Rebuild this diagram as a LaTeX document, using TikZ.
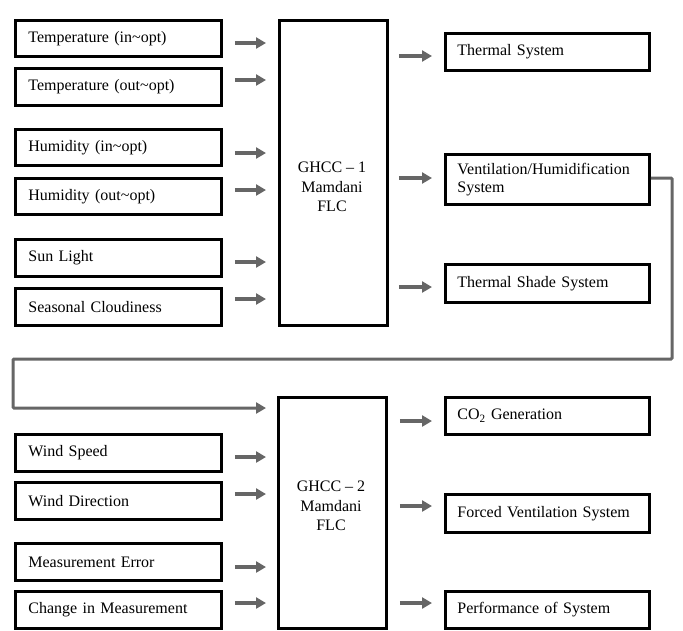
\documentclass[tikz,border=0pt]{standalone}
\usepackage{fontspec}
\setmainfont{Liberation Serif}
\usetikzlibrary{arrows.meta}
\definecolor{flowgray}{HTML}{666666}
\begin{document}
\begin{tikzpicture}[x=1pt,y=-1pt,
  font=\fontsize{16}{18.5}\selectfont,
  inbox/.style={draw=black, line width=2.8pt, anchor=north west,
    text width=180pt, inner xsep=13pt, inner ysep=0pt, align=left},
  outbox/.style={draw=black, line width=2.8pt, anchor=north west,
    text width=180pt, inner xsep=12pt, inner ysep=0pt, align=left},
  flc/.style={draw=black, line width=2.8pt, anchor=north west,
    minimum width=108pt, inner sep=0pt},
  flctext/.style={align=center, inner sep=0pt, font=\fontsize{16}{19.5}\selectfont},
  garrow/.style={draw=flowgray, line width=3.6pt,
    -{Triangle[length=10pt,width=11pt]}},
  fbline/.style={draw=flowgray, line width=3pt, rounded corners=1pt,
    -{Triangle[length=10pt,width=11pt]}}]
\useasboundingbox (0,0) rectangle (683,630);

% controller blocks
\node[flc, minimum height=305pt] (g1) at (278,19) {};
\node[flctext] (g1t) at (332,187) {GHCC -- 1\\Mamdani\\FLC};
\node[flc, minimum height=231pt] (g2) at (277,396) {};
\node[flctext] (g2t) at (331,506) {GHCC -- 2\\Mamdani\\FLC};

% inputs of the first controller
\node[inbox, minimum height=36pt] (ti) at (14,19)  {Temperature (in\textasciitilde opt)};
\node[inbox, minimum height=37pt] (to) at (14,67)  {Temperature (out\textasciitilde opt)};
\node[inbox, minimum height=36pt] (hi) at (14,128) {Humidity (in\textasciitilde opt)};
\node[inbox, minimum height=36pt] (ho) at (14,177) {Humidity (out\textasciitilde opt)};
\node[inbox, minimum height=37pt] (sl) at (14,238) {Sun Light};
\node[inbox, minimum height=37pt] (sc) at (14,287) {Seasonal Cloudiness};

% inputs of the second controller
\node[inbox, minimum height=37pt] (ws) at (14,433) {Wind Speed};
\node[inbox, minimum height=37pt] (wd) at (14,481) {Wind Direction};
\node[inbox, minimum height=37pt] (me) at (14,542) {Measurement Error};
\node[inbox, minimum height=37pt] (cm) at (14,590) {Change in Measurement};

% outputs
\node[outbox, minimum height=37pt] (ts)  at (444,32)  {Thermal System};
\node[outbox, minimum height=50pt] (vh)  at (444,153) {Ventilation/Humidification\\System};
\node[outbox, minimum height=38pt] (tss) at (444,263) {Thermal Shade System};
\node[outbox, minimum height=37pt] (co)  at (444,396) {CO\textsubscript{2} Generation};
\node[outbox, minimum height=38pt] (fv)  at (444,493) {Forced Ventilation System};
\node[outbox, minimum height=37pt] (ps)  at (444,590) {Performance of System};

% input arrows
\foreach \src/\y in {ti/43, to/80, hi/153, ho/190, sl/262, sc/299}
  \draw[garrow] ([xshift=12pt]\src.east |- 0,\y) -- ([xshift=-12pt]g1.west |- 0,\y);
\foreach \src/\y in {ws/457, wd/494, me/567, cm/603}
  \draw[garrow] ([xshift=12pt]\src.east |- 0,\y) -- ([xshift=-11pt]g2.west |- 0,\y);

% output arrows
\foreach \dst/\y in {ts/56, vh/178, tss/287}
  \draw[garrow] ([xshift=10pt]g1.east |- 0,\y) -- ([xshift=-12pt]\dst.west |- 0,\y);
\foreach \dst/\y in {co/421, fv/506, ps/603}
  \draw[garrow] ([xshift=12pt]g2.east |- 0,\y) -- ([xshift=-12pt]\dst.west |- 0,\y);

% feedback from the ventilation output to the second controller
\coordinate (fbin) at ([xshift=-11pt]g2.west |- 0,408);
\draw[fbline] (vh.east |- 0,178) -| (672,359) -| (13,408) -- (fbin);
\end{tikzpicture}
\end{document}
